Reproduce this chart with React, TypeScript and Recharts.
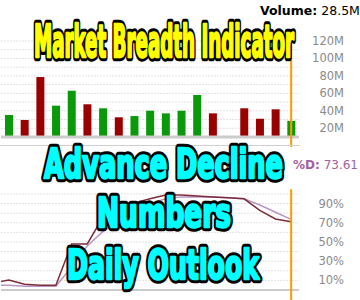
import {
  Bar,
  BarChart,
  CartesianGrid,
  Cell,
  Line,
  LineChart,
  ReferenceLine,
  XAxis,
  YAxis,
} from 'recharts';

// daily volume, millions of shares (day 15 had no bar)
const days = ['D1', 'D2', 'D3', 'D4', 'D5', 'D6', 'D7', 'D8', 'D9', 'D10', 'D11', 'D12', 'D13', 'D14', 'D15', 'D16', 'D17', 'D18', 'D19'];
const volumeM = [35.2, 29.5, 78.7, 45.9, 63, 47.5, 42.9, 32.6, 34, 40.1, 37.1, 40.1, 58.1, 37.1, null, 42.9, 31, 41.7, 28.5];
const volumeUp = [true, false, false, true, true, false, true, false, true, true, true, true, true, false, false, false, false, false, true];
const volumeTicks = [10, 20, 30, 40, 50, 60, 70, 80, 90, 100, 110, 120];

// stochastic %K / %D, index -1 is the day before the window (clipped)
const stochIndex = [-1, 0, 1, 2, 3, 4, 5, 6, 7, 8, 9, 10, 11, 12, 13, 14, 15, 16, 17, 18];
const pctK = [7.4, 10.4, 6, 5, 5, 48, 48, 76, 85, 90.6, 95, 99, 99, 98, 97, 96, 95, 83, 74, 71];
const pctD = [5, 5, 4, 4, 4, 24, 45.8, 61, 71, 81, 90, 95, 97, 97, 97, 96, 95, 88.5, 81, 73.61];
const stochTicks = [0, 10, 20, 30, 40, 50, 60, 70, 80, 90, 100];

const GREEN = '#0a990a';
const RED = '#990000';
const ORANGE = '#ff9900';
const GRID = '#e3e3e3';
const TICK_FONT = "'DejaVu Sans', Verdana, sans-serif";
const BANNER_FONT = "'DejaVu Sans Condensed', 'Liberation Sans Narrow', sans-serif";

function VolumeTick(props: any) {
  const { x, y, payload } = props;
  if (payload.value % 20 !== 0) return <g />;
  return (
    <text x={x + 45} y={y} dy={4} textAnchor="end" fill="#8a8a8a" fontSize={11.5} fontFamily={TICK_FONT}>
      {payload.value}M
    </text>
  );
}

function StochTick(props: any) {
  const { x, y, payload } = props;
  if (payload.value % 20 !== 10) return <g />;
  return (
    <text x={x + 45} y={y} dy={4} textAnchor="end" fill="#8a8a8a" fontSize={11.5} fontFamily={TICK_FONT}>
      {payload.value}%
    </text>
  );
}

function Banner({ x, y, w, size, fill, children }: any) {
  const common = {
    x,
    y,
    textLength: w,
    lengthAdjust: 'spacingAndGlyphs',
    fontSize: size,
    fontWeight: 700,
    fontFamily: BANNER_FONT,
    strokeLinejoin: 'round' as const,
  };
  return (
    <g>
      <text {...common} fill="#000" stroke="#000" strokeWidth={8.5}>
        {children}
      </text>
      <text {...common} fill={fill} stroke={fill} strokeWidth={2.4}>
        {children}
      </text>
    </g>
  );
}

export default function App() {
  const volumeData = days.map((day, i) => ({ day, volume: volumeM[i] }));
  const stochData = stochIndex.map((x, i) => ({ x, k: pctK[i], d: pctD[i] }));
  const lastDay = days[days.length - 1];
  const lastIdx = stochIndex[stochIndex.length - 1];

  return (
    <div style={{ position: 'fixed', left: 0, top: 0, width: 360, height: 300, background: '#fff', overflow: 'hidden' }}>
      <div style={{ position: 'absolute', left: 0, top: 0 }}>
        <BarChart width={360} height={147} data={volumeData} margin={{ top: 41, right: 1, bottom: 10, left: 1 }}>
          <CartesianGrid vertical={false} stroke={GRID} strokeDasharray="2 1" />
          <XAxis dataKey="day" hide />
          <YAxis
            orientation="right"
            domain={[10, 120]}
            ticks={volumeTicks}
            interval={0}
            width={60}
            axisLine={false}
            tickLine={false}
            tickSize={0}
            tickMargin={0}
            allowDataOverflow
            tick={VolumeTick}
          />
          <ReferenceLine y={10} stroke="#cccccc" strokeWidth={3} />
          <Bar dataKey="volume" barSize={8} isAnimationActive={false}>
            {volumeData.map((row, i) => (
              <Cell key={row.day} fill={volumeUp[i] ? GREEN : RED} />
            ))}
          </Bar>
          <ReferenceLine
            segment={[{ x: lastDay, y: -1.5 }, { x: lastDay, y: 122 }]}
            stroke={ORANGE}
            strokeWidth={2}
            ifOverflow="visible"
          />
        </BarChart>
      </div>

      <div style={{ position: 'absolute', left: 0, top: 145, width: 300, height: 1, background: '#d0d0d0' }} />

      <div style={{ position: 'absolute', left: 0, top: 147 }}>
        <LineChart width={360} height={153} data={stochData} margin={{ top: 47, right: 1, bottom: 10, left: 1 }}>
          <CartesianGrid vertical={false} stroke={GRID} strokeDasharray="2 1" />
          <XAxis dataKey="x" type="number" domain={[-0.5, 18.5]} allowDataOverflow hide />
          <YAxis
            orientation="right"
            domain={[0, 100]}
            ticks={stochTicks}
            interval={0}
            width={60}
            axisLine={false}
            tickLine={false}
            tickSize={0}
            tickMargin={0}
            tick={StochTick}
          />
          <ReferenceLine y={0} stroke="#cccccc" strokeWidth={2} />
          <Line dataKey="d" stroke="#b996c4" strokeWidth={1.5} dot={false} isAnimationActive={false} />
          <Line dataKey="k" stroke="#7d2c3c" strokeWidth={1.5} dot={false} isAnimationActive={false} />
          <ReferenceLine
            segment={[{ x: lastIdx, y: -11 }, { x: lastIdx, y: 105 }]}
            stroke={ORANGE}
            strokeWidth={2}
            ifOverflow="visible"
          />
        </LineChart>
      </div>

      <svg width={360} height={300} style={{ position: 'absolute', left: 0, top: 0 }}>
        <text x={260} y={15} fontSize={12.5} fontFamily={TICK_FONT} fill="#000">
          <tspan fontWeight="bold">Volume:</tspan> {volumeM[volumeM.length - 1]}M
        </text>
        <text x={293} y={169} fontSize={12} fontFamily={TICK_FONT} fill="#a0609f">
          <tspan fontWeight="bold">%D:</tspan> {pctD[pctD.length - 1]}
        </text>
        <Banner x={34} y={57} w={260} size={44} fill="#ffff00">
          Market Breadth Indicator
        </Banner>
        <Banner x={44} y={178} w={239} size={40} fill="#00ffff">
          Advance Decline
        </Banner>
        <Banner x={97} y={227} w={134} size={40} fill="#00ffff">
          Numbers
        </Banner>
        <Banner x={67} y={279} w={192} size={41} fill="#00ffff">
          Daily Outlook
        </Banner>
      </svg>
    </div>
  );
}
